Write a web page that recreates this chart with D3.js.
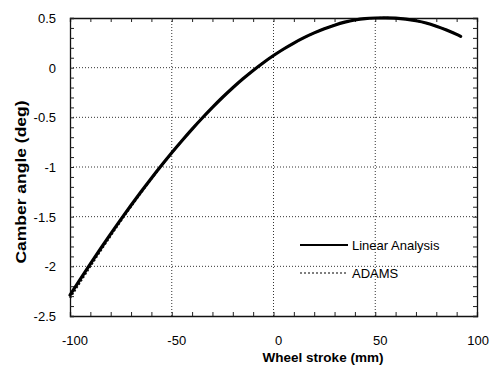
<!DOCTYPE html>
<html>
<head>
<meta charset="utf-8">
<script src="https://cdn.jsdelivr.net/npm/d3@7"></script>
<style>
  body { margin: 0; background: #fff; }
</style>
</head>
<body>
<div id="chart"></div>
<script>
const stroke = [-100, -95, -90, -85, -80, -75, -70, -65, -60, -55, -50, -45, -40, -35, -30, -25, -20, -15, -10, -5, 0, 5, 10, 15, 20, 25, 30, 35, 40, 45, 50, 55, 60, 65, 70, 75, 80, 85, 90, 92]
const linearAnalysis = [-2.29, -2.132, -1.976, -1.823, -1.673, -1.527, -1.385, -1.247, -1.113, -0.983, -0.857, -0.736, -0.619, -0.507, -0.4, -0.298, -0.202, -0.112, -0.028, 0.05, 0.122, 0.188, 0.248, 0.302, 0.35, 0.392, 0.428, 0.458, 0.48, 0.494, 0.5, 0.502, 0.498, 0.488, 0.472, 0.45, 0.418, 0.38, 0.335, 0.315]
const adams = [-2.32, -2.16, -2.001, -1.845, -1.693, -1.544, -1.399, -1.258, -1.121, -0.988, -0.86, -0.736, -0.619, -0.507, -0.4, -0.298, -0.202, -0.112, -0.028, 0.05, 0.122, 0.188, 0.248, 0.302, 0.35, 0.392, 0.428, 0.458, 0.48, 0.494, 0.5, 0.502, 0.498, 0.488, 0.472, 0.45, 0.418, 0.38, 0.335, 0.315]
const xTicks = [-100, -50, 0, 50, 100]
const yTicks = [0.5, 0, -0.5, -1, -1.5, -2, -2.5]
const seriesNames = ["Linear Analysis", "ADAMS"]

const width = 490, height = 365
const margin = {top: 18, right: 13, bottom: 49, left: 70}

const svg = d3.select('#chart')
    .append('svg')
    .attr('width', width)
    .attr('height', height)
    .attr('font-family', 'Liberation Sans, Arial, sans-serif')

const x = d3.scaleLinear([-100, 100], [margin.left, width - margin.right])
const y = d3.scaleLinear([-2.5, 0.5], [height - margin.bottom, margin.top])

// dotted grid
const grid = svg.append("g")
    .attr("stroke", "#333")
    .attr("stroke-dasharray", "1,2")
    .attr("stroke-width", 1)

grid.selectAll("line.gx")
    .data(xTicks.slice(1, -1))
    .join("line")
    .attr("x1", d => x(d)).attr("x2", d => x(d))
    .attr("y1", y(0.5)).attr("y2", y(-2.5))

grid.selectAll("line.gy")
    .data(yTicks.slice(1, -1))
    .join("line")
    .attr("class", "gy")
    .attr("x1", x(-100)).attr("x2", x(100))
    .attr("y1", d => y(d)).attr("y2", d => y(d))

// inward ticks on all four sides
const tickFmt = () => ""
svg.append("g")
    .attr("transform", `translate(0,${y(-2.5)})`)
    .call(d3.axisTop(x).ticks(20).tickSize(4).tickFormat(tickFmt))
svg.append("g")
    .attr("transform", `translate(0,${y(0.5)})`)
    .call(d3.axisBottom(x).ticks(20).tickSize(4).tickFormat(tickFmt))
svg.append("g")
    .attr("transform", `translate(${x(-100)},0)`)
    .call(d3.axisRight(y).ticks(30).tickSize(4).tickFormat(tickFmt))
svg.append("g")
    .attr("transform", `translate(${x(100)},0)`)
    .call(d3.axisLeft(y).ticks(30).tickSize(4).tickFormat(tickFmt))

svg.selectAll(".domain").attr("stroke", "#111").attr("stroke-width", 1.3)
svg.selectAll(".tick line").attr("stroke", "#222")

// tick labels (last one pulled in so it stays on the page)
svg.append("g")
    .attr("font-size", 13)
    .selectAll("text")
    .data(xTicks)
    .join("text")
    .attr("text-anchor", (d, i) => i === xTicks.length - 1 ? "end" : "middle")
    .attr("x", (d, i) => i === xTicks.length - 1 ? width - 1 : x(d) + 5)
    .attr("y", 345)
    .text(d => d)

svg.append("g")
    .attr("font-size", 13)
    .attr("text-anchor", "end")
    .selectAll("text")
    .data(yTicks)
    .join("text")
    .attr("x", 56)
    .attr("y", d => y(d) + 5)
    .text(d => d)

// axis titles
svg.append("text")
    .attr("x", 323)
    .attr("y", 362)
    .attr("text-anchor", "middle")
    .attr("font-size", 13.5)
    .attr("font-weight", "bold")
    .text("Wheel stroke (mm)")

svg.append("text")
    .attr("transform", "translate(26,182) rotate(-90)")
    .attr("text-anchor", "middle")
    .attr("font-size", 15)
    .attr("font-weight", "bold")
    .attr("textLength", 163)
    .attr("lengthAdjust", "spacingAndGlyphs")
    .text("Camber angle (deg)")

// curves
const line = d3.line()
    .x(d => x(d[0]))
    .y(d => y(d[1]))
    .curve(d3.curveMonotoneX)

svg.append("path")
    .datum(stroke.map((s, i) => [s, adams[i]]))
    .attr("fill", "none")
    .attr("stroke", "#111")
    .attr("stroke-width", 2)
    .attr("stroke-dasharray", "2,2")
    .attr("d", line)

svg.append("path")
    .datum(stroke.map((s, i) => [s, linearAnalysis[i]]))
    .attr("fill", "none")
    .attr("stroke", "#000")
    .attr("stroke-width", 3.2)
    .attr("stroke-linecap", "round")
    .attr("d", line)

// legend
const legend = svg.append("g")
    .attr("font-size", 13)
    .selectAll("g")
    .data(seriesNames)
    .join("g")
    .attr("transform", (d, i) => `translate(300,${245 + i * 28})`)

legend.append("line")
    .attr("x1", 0).attr("x2", 48)
    .attr("stroke", "#000")
    .attr("stroke-width", (d, i) => i ? 1.2 : 2)
    .attr("stroke-dasharray", (d, i) => i ? "2,2" : null)

legend.append("text")
    .attr("x", 52)
    .attr("y", 4.5)
    .text(d => d)
</script>
</body>
</html>
